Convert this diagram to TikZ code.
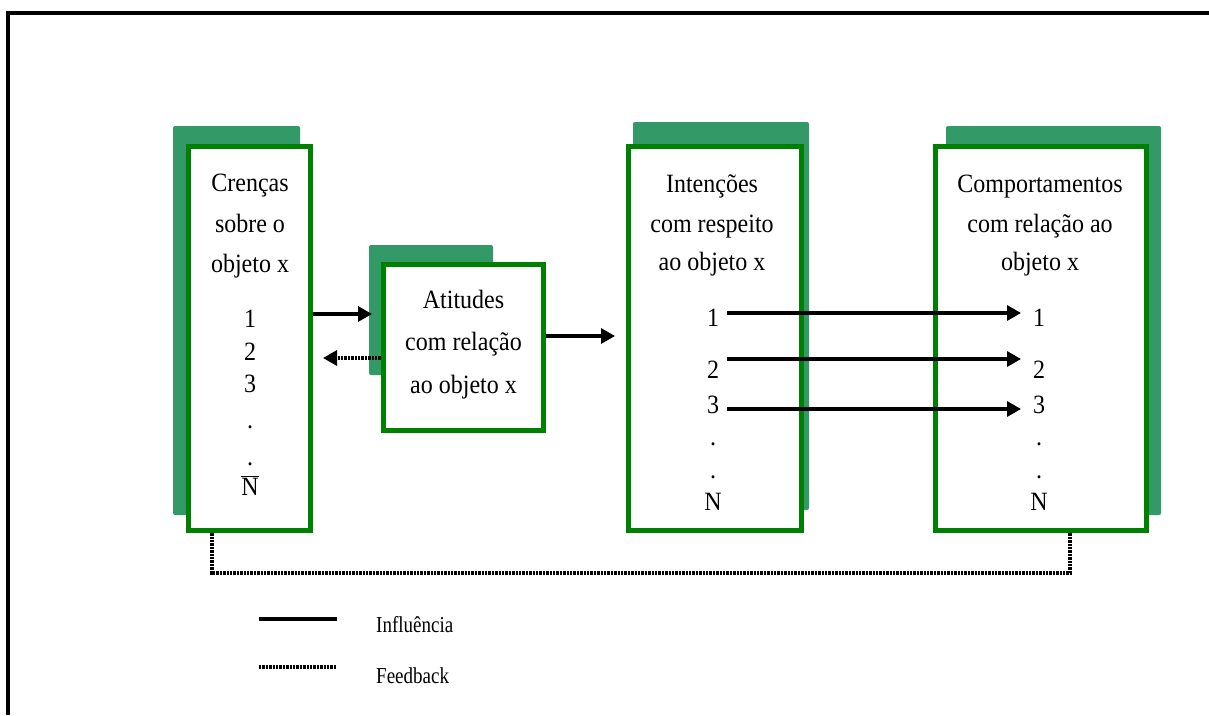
\documentclass[tikz,border=0pt]{standalone}
\usepackage{fontspec}
\setmainfont{Liberation Serif}
\usetikzlibrary{arrows.meta}
\definecolor{shadowgreen}{RGB}{51,153,102}
\definecolor{boxgreen}{RGB}{0,128,0}
\begin{document}
\begin{tikzpicture}[x=1pt,y=-1pt,
  shadowbox/.style={fill=shadowgreen, draw=none, rounded corners=2pt},
  mainbox/.style={draw=boxgreen, line width=5.5pt, fill=white, inner sep=0pt},
  lbl/.style={font=\fontsize{24}{24}\selectfont, anchor=base, inner sep=0pt, yscale=1.1},
  leg/.style={font=\fontsize{19}{19}\selectfont, anchor=base west, inner sep=0pt, yscale=1.2},
  tip/.style={-{Triangle[length=14pt,width=15pt]}},
  infl/.style={line width=3.2pt, tip},
  fb/.style={line width=3.2pt, dash pattern=on 2.4pt off 1pt},
]
\useasboundingbox (0,0) rectangle (1209,715);
% outer frame
\draw[line width=4pt] (1209,12.5) -- (8,12.5) -- (8,715);
% shadows
\path[shadowbox] (173,126) rectangle (300,515);
\path[shadowbox] (369,245) rectangle (493,375);
\path[shadowbox] (633,122) rectangle (809,510);
\path[shadowbox] (946,126) rectangle (1161,515);
% main boxes
\node[mainbox, minimum width=122pt, minimum height=384pt] (b1) at (249.5,338.5) {};
\node[mainbox, minimum width=160pt, minimum height=166pt] (b2) at (463.5,347.5) {};
\node[mainbox, minimum width=173pt, minimum height=384pt] (b3) at (715,338.5) {};
\node[mainbox, minimum width=211pt, minimum height=384pt] (b4) at (1041,338.5) {};
% box 1 text
\node[lbl] (c1) at (250,191) {Crenças};
\node[lbl] (c2) at (250,232) {sobre o};
\node[lbl] (c3) at (250,272) {objeto x};
\node[lbl] (c4) at (250,327) {1};
\node[lbl] (c5) at (250,360) {2};
\node[lbl] (c6) at (250,392) {3};
\node[lbl] (c7) at (250,428) {.};
\node[lbl] (c8) at (250,465) {.};
\node[lbl] (c9) at (250,495) {$\overline{\mbox{N}}$};
% box 2 text
\node[lbl] (a1) at (463.5,308) {Atitudes};
\node[lbl] (a2) at (463.5,350) {com relação};
\node[lbl] (a3) at (463.5,393) {ao objeto x};
% box 3 text
\node[lbl] (i1) at (712,192) {Intenções};
\node[lbl] (i2) at (712,232) {com respeito};
\node[lbl] (i3) at (712,270) {ao objeto x};
\node[lbl] (i4) at (713,326) {1};
\node[lbl] (i5) at (713,378) {2};
\node[lbl] (i6) at (713,413) {3};
\node[lbl] (i7) at (713,445) {.};
\node[lbl] (i8) at (713,478) {.};
\node[lbl] (i9) at (713,510) {N};
% box 4 text
\node[lbl] (p1) at (1040,192) {Comportamentos};
\node[lbl] (p2) at (1040,232) {com relação ao};
\node[lbl] (p3) at (1040,270) {objeto x};
\node[lbl] (p4) at (1039,326) {1};
\node[lbl] (p5) at (1039,378) {2};
\node[lbl] (p6) at (1039,413) {3};
\node[lbl] (p7) at (1039,445) {.};
\node[lbl] (p8) at (1039,478) {.};
\node[lbl] (p9) at (1039,510) {N};
% connectors
\coordinate (t12) at (372,314);
\draw[infl] (b1.east |- t12) -- (t12);
\coordinate (t21) at (323,358);
\draw[fb, tip] (b2.west |- t21) -- (t21);
\coordinate (t23) at (615,336);
\draw[infl] (b2.east |- t23) -- (t23);
\coordinate (s1) at (727,313);
\coordinate (e1) at (1021,313);
\coordinate (s2) at (727,359);
\coordinate (e2) at (1021,359);
\coordinate (s3) at (727,409);
\coordinate (e3) at (1021,409);
\draw[infl] (s1) -- (e1);
\draw[infl] (s2) -- (e2);
\draw[infl] (s3) -- (e3);
% feedback loop
\coordinate (f1) at (212,573);
\coordinate (f2) at (1070,573);
\draw[fb] (b1.south -| f1) -- (f1) -- (f2) -- (b4.south -| f2);
% legend
\coordinate (l1) at (259,619);
\coordinate (l2) at (337,619);
\draw[line width=3.5pt] (l1) -- (l2);
\node[leg] (li) at (376,632) {Influência};
\coordinate (l3) at (259,667);
\coordinate (l4) at (337,667);
\draw[fb] (l3) -- (l4);
\node[leg] (lf) at (376,683) {Feedback};
\end{tikzpicture}
\end{document}
